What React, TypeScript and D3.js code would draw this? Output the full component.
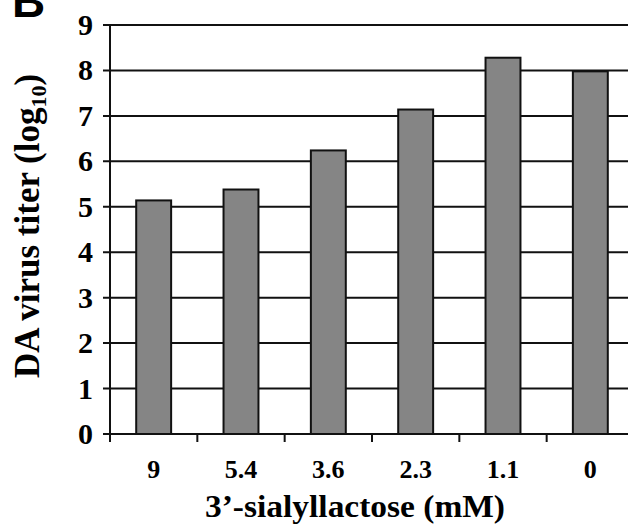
import React, { useEffect, useRef } from "react";
import * as d3 from "d3";

const concentrations = ["9", "5.4", "3.6", "2.3", "1.1", "0"];
const titers = [5.14, 5.38, 6.24, 7.14, 8.28, 7.98];
const yTicks = [0, 1, 2, 3, 4, 5, 6, 7, 8, 9];

export default function App() {
  const ref = useRef<SVGSVGElement>(null);

  useEffect(() => {
    const svg = d3.select(ref.current);
    svg.selectAll("*").remove();

    const left = 110;
    const right = 634;
    const top = 25;
    const bottom = 434;
    const font = "'Liberation Serif', 'Times New Roman', serif";

    const x = d3.scaleBand().domain(concentrations).range([left, right]);
    const y = d3.scaleLinear().domain([0, 9]).range([bottom, top]);

    // horizontal grid lines + left ticks
    svg.append("g")
      .selectAll("line")
      .data(yTicks)
      .join("line")
      .attr("x1", left - 7)
      .attr("x2", 628)
      .attr("y1", d => y(d))
      .attr("y2", d => y(d))
      .attr("stroke", "#111")
      .attr("stroke-width", 2);

    // bars
    const bw = x.step() * 0.4;
    svg.append("g")
      .selectAll("rect")
      .data(titers)
      .join("rect")
      .attr("x", (d, i) => x(concentrations[i])! + (x.step() - bw) / 2)
      .attr("y", d => y(d))
      .attr("width", bw)
      .attr("height", d => bottom - y(d))
      .attr("fill", "#858585")
      .attr("stroke", "#111")
      .attr("stroke-width", 2);

    // y axis line
    svg.append("line")
      .attr("x1", left).attr("x2", left)
      .attr("y1", top).attr("y2", bottom)
      .attr("stroke", "#111").attr("stroke-width", 2);

    // x axis bottom ticks at band boundaries
    svg.append("g")
      .selectAll("line")
      .data(concentrations)
      .join("line")
      .attr("x1", d => x(d)!)
      .attr("x2", d => x(d)!)
      .attr("y1", bottom)
      .attr("y2", bottom + 8)
      .attr("stroke", "#111")
      .attr("stroke-width", 2);

    // y tick labels
    svg.append("g")
      .selectAll("text")
      .data(yTicks)
      .join("text")
      .attr("x", 93)
      .attr("y", d => y(d) + 10)
      .attr("text-anchor", "end")
      .attr("font-family", font)
      .attr("font-weight", "bold")
      .attr("font-size", 30)
      .text(d => d);

    // x tick labels
    svg.append("g")
      .selectAll("text")
      .data(concentrations)
      .join("text")
      .attr("x", d => x(d)! + x.bandwidth() / 2)
      .attr("y", 478)
      .attr("text-anchor", "middle")
      .attr("font-family", font)
      .attr("font-weight", "bold")
      .attr("font-size", 26)
      .text(d => d);

    // x title
    svg.append("text")
      .attr("x", 205)
      .attr("y", 517)
      .attr("font-family", font)
      .attr("font-weight", "bold")
      .attr("font-size", 32)
      .attr("textLength", 300)
      .attr("lengthAdjust", "spacingAndGlyphs")
      .text("3’-sialyllactose (mM)");

    // y title
    const yt = svg.append("text")
      .attr("transform", "translate(39,226) rotate(-90)")
      .attr("text-anchor", "middle")
      .attr("font-family", font)
      .attr("font-weight", "bold")
      .attr("font-size", 35);
    yt.append("tspan").text("DA virus titer (log");
    yt.append("tspan").attr("font-size", 22).attr("dy", 7).text("10");
    yt.append("tspan").attr("dy", -7).text(")");

    // panel letter
    svg.append("text")
      .attr("x", 12)
      .attr("y", 17)
      .attr("font-family", "'Liberation Sans', Arial, sans-serif")
      .attr("font-weight", "bold")
      .attr("font-size", 46)
      .text("B");
  }, []);

  return (
    <svg
      ref={ref}
      width={628}
      height={525}
      style={{ position: "absolute", left: 0, top: 0, background: "#fff" }}
    />
  );
}
